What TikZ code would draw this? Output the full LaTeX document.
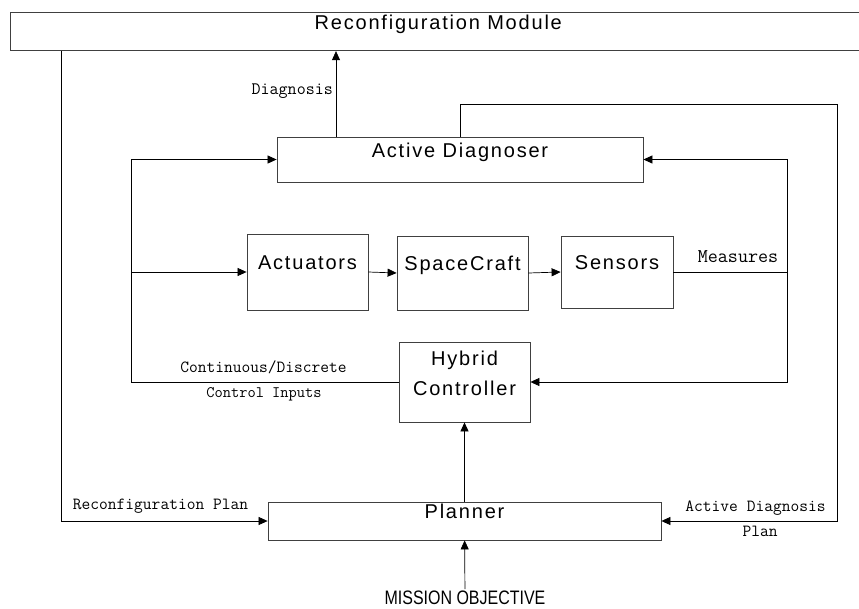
\documentclass[tikz,border=0pt]{standalone}
\usepackage{fontspec}
\usepackage{tikz}
\usetikzlibrary{arrows.meta, positioning}
\newfontfamily\boxfont[LetterSpace=9]{Liberation Sans}
\newfontfamily\narrowfont[FakeStretch=0.82]{Liberation Sans}
\tikzset{%
  block/.style={rectangle, draw=black!75, line width=0.8pt, font=\boxfont\fontsize{20}{30}\selectfont, text height=14.3pt, text depth=18.7pt, inner sep=0pt},
  tag/.style={font=\fontsize{17}{20}\selectfont\ttfamily, inner sep=0pt, anchor=base},
  line/.style={draw, line width=0.7pt, -{Triangle[length=9pt, width=8pt]}},
  wire/.style={draw, line width=0.7pt}}
\begin{document}
\begin{tikzpicture}[x=1pt, y=-1pt]
    \clip (0, 0) rectangle (859, 608);

    \node [block, minimum width=855pt, minimum height=38.4pt] (recon) at (438.3, 31.5) {Reconfiguration Module};
    \node [block, minimum width=366pt, minimum height=45pt] (diagnoser) at (460, 159.5) {Active Diagnoser};

    \node [block, minimum width=121pt, minimum height=76pt] (actuators) at (307.5, 272) {Actuators};
    \node [block, minimum width=131pt, minimum height=74pt] (spacecraft) at (462.5, 273) {SpaceCraft};
    \node [block, minimum width=112pt, minimum height=72pt] (sensors) at (617, 272) {Sensors};

    \node [block, minimum width=131pt, minimum height=80pt, text height=45pt, text depth=19pt] (hybrid) at (464.5, 382) {%
      \begin{tabular}[b]{@{}c@{}}
        Hybrid \\
        Controller
      \end{tabular}
    };
    \node [block, minimum width=393pt, minimum height=38pt] (planner) at (464.5, 521) {Planner};
    \node [font=\narrowfont\fontsize{19.5}{23}\selectfont, inner sep=1pt, anchor=base] (mission) at (465, 604) {MISSION OBJECTIVE};

    % diagnosis up to the reconfiguration module
    \path [line] ([xshift=-124pt]diagnoser.north) -- ([xshift=-124pt]diagnoser.north |- recon.south);
    \node [tag, anchor=base east, font=\fontsize{17.5}{20}\selectfont\ttfamily] (diaglabel) at (333, 94.5) {Diagnosis};

    \coordinate (loopright) at (837, 104);
    \path [line] (diagnoser.north) |- (loopright) |- (planner.east);
    \node [tag] (diagplan) at (755.5, 511) {Active Diagnosis};
    \node [tag] (diagplan2) at (760, 536) {Plan};

    \path [line] ([xshift=51.3pt]recon.south west) |- (planner.west);
    \node [tag] (reconplan) at (160.5, 509.5) {Reconfiguration Plan};

    % control inputs
    \coordinate (inputs) at (131, 382);
    \path [line] (hybrid.west) -- (inputs) |- (diagnoser.west);
    \path [line] (inputs |- actuators.west) -- (actuators.west);
    \node [tag] (inputlabel) at (263.5, 372.7) {Continuous/Discrete};
    \node [tag, font=\fontsize{16}{20}\selectfont\ttfamily] (inputlabel2) at (264, 397.5) {Control Inputs};

    \path [line] (actuators.east) -- (spacecraft.west);
    \path [line] (spacecraft.east) -- (sensors.west);

    % measures
    \coordinate (measures) at (787, 272);
    \path [wire] (sensors.east) -- (measures);
    \path [line] (measures) |- (diagnoser.east);
    \path [line] (measures) |- (hybrid.east);
    \node [tag, font=\fontsize{19.5}{20}\selectfont\ttfamily] (measurelabel) at (738, 262) {Measures};

    \path [line] (planner) -- (hybrid);
    \path [line] (mission) -- (planner);
\end{tikzpicture}
\end{document}
